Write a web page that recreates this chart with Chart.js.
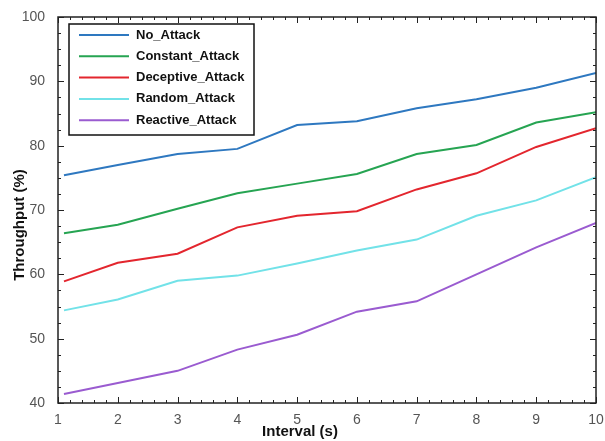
<!DOCTYPE html>
<html>
<head>
<meta charset="utf-8">
<script src="https://cdn.jsdelivr.net/npm/chart.js@4"></script>
<style>
  html, body { margin: 0; padding: 0; background: #fff; }
  #wrap { width: 605px; height: 441px; }
</style>
</head>
<body>
<div id="wrap"><canvas id="myChart" width="605" height="441"></canvas></div>
<script>
// Throughput vs interval
const intervals = [1.1, 2, 3, 4, 5, 6, 7, 8, 9, 10];
const noAttack = [75.4, 77.0, 78.7, 79.5, 83.2, 83.8, 85.8, 87.2, 89.0, 91.3];
const constantAttack = [66.4, 67.7, 70.2, 72.6, 74.1, 75.6, 78.7, 80.1, 83.6, 85.2];
const deceptiveAttack = [58.9, 61.8, 63.2, 67.3, 69.1, 69.8, 73.2, 75.7, 79.8, 82.7];
const randomAttack = [54.4, 56.1, 59.0, 59.8, 61.7, 63.7, 65.4, 69.1, 71.5, 75.1];
const reactiveAttack = [41.4, 43.1, 45.0, 48.3, 50.6, 54.2, 55.8, 60.0, 64.2, 68.0];

const seriesNames = ["No_Attack", "Constant_Attack", "Deceptive_Attack", "Random_Attack", "Reactive_Attack"];
const seriesData = [noAttack, constantAttack, deceptiveAttack, randomAttack, reactiveAttack];
const colors = ["#2e78c0", "#26a452", "#e3262e", "#72e2e8", "#9a5bd0"];
const xTitle = "Interval (s)";
const yTitle = "Throughput (%)";

const pts = arr => arr.map((v, i) => ({ x: intervals[i], y: v }));
const FONT = "'Liberation Sans', Arial, sans-serif";

// frame with inward major/minor ticks on all four sides, axis titles, boxed legend
const framePlugin = {
  id: "frame",
  afterDraw(chart) {
    const c = chart.ctx;
    const a = chart.chartArea;
    const xs = chart.scales.x, ys = chart.scales.y;
    c.save();
    c.strokeStyle = "#222";
    c.lineWidth = 1.5;
    c.strokeRect(a.left, a.top, a.right - a.left, a.bottom - a.top);
    c.lineWidth = 1;
    c.beginPath();
    for (let v = 1; v <= 10.001; v += 0.2) {
      const px = Math.round(xs.getPixelForValue(v)) + 0.5;
      const major = Math.abs(v - Math.round(v)) < 0.01;
      const len = major ? 6 : 3;
      c.moveTo(px, a.bottom); c.lineTo(px, a.bottom - len);
      c.moveTo(px, a.top); c.lineTo(px, a.top + len);
    }
    for (let v = 40; v <= 100.001; v += 2.5) {
      const py = Math.round(ys.getPixelForValue(v)) + 0.5;
      const major = Math.abs(v % 10) < 0.01;
      const len = major ? 6 : 3;
      c.moveTo(a.left, py); c.lineTo(a.left + len, py);
      c.moveTo(a.right, py); c.lineTo(a.right - len, py);
    }
    c.stroke();

    // axis titles
    c.fillStyle = "#111";
    c.font = "bold 15px " + FONT;
    c.textAlign = "center";
    c.textBaseline = "middle";
    c.fillText(xTitle, 300, 432);
    c.save();
    c.translate(20, 225);
    c.rotate(-Math.PI / 2);
    c.fillText(yTitle, 0, 0);
    c.restore();

    // legend box
    const bx = 69, by = 24, bw = 185, bh = 111;
    c.fillStyle = "#fff";
    c.fillRect(bx, by, bw, bh);
    c.lineWidth = 1.5;
    c.strokeStyle = "#111";
    c.strokeRect(bx, by, bw, bh);
    c.font = "bold 13px " + FONT;
    c.textAlign = "left";
    c.textBaseline = "middle";
    chart.data.datasets.forEach((ds, i) => {
      const y = by + 11 + i * 21.3;
      c.strokeStyle = ds.borderColor;
      c.lineWidth = 2;
      c.beginPath();
      c.moveTo(bx + 10, y); c.lineTo(bx + 60, y);
      c.stroke();
      c.fillStyle = "#111";
      c.fillText(ds.label, bx + 67, y);
    });
    c.restore();
  }
};

new Chart(document.getElementById("myChart"), {
  type: "line",
  data: {
    datasets: seriesNames.map((name, i) => ({
      label: name,
      data: pts(seriesData[i]),
      borderColor: colors[i],
      backgroundColor: colors[i],
      borderWidth: 2,
      pointRadius: 0,
      tension: 0,
    })),
  },
  options: {
    responsive: false,
    animation: false,
    layout: { padding: { top: 17, right: 9, left: 0, bottom: 0 } },
    plugins: {
      legend: { display: false },
      tooltip: { enabled: false },
    },
    scales: {
      x: {
        type: "linear",
        min: 1,
        max: 10,
        afterFit: s => { s.height = 38; s.paddingLeft = 0; s.paddingRight = 0; },
        ticks: {
          stepSize: 1,
          padding: 1,
          color: "#555",
          font: { family: FONT, size: 14 },
        },
        grid: { display: false },
        border: { display: false },
      },
      y: {
        min: 40,
        max: 100,
        afterFit: s => { s.width = 58; s.paddingTop = 0; s.paddingBottom = 0; },
        ticks: {
          stepSize: 10,
          padding: 5,
          color: "#555",
          font: { family: FONT, size: 14 },
        },
        grid: { display: false },
        border: { display: false },
      },
    },
  },
  plugins: [framePlugin],
});
</script>
</body>
</html>
